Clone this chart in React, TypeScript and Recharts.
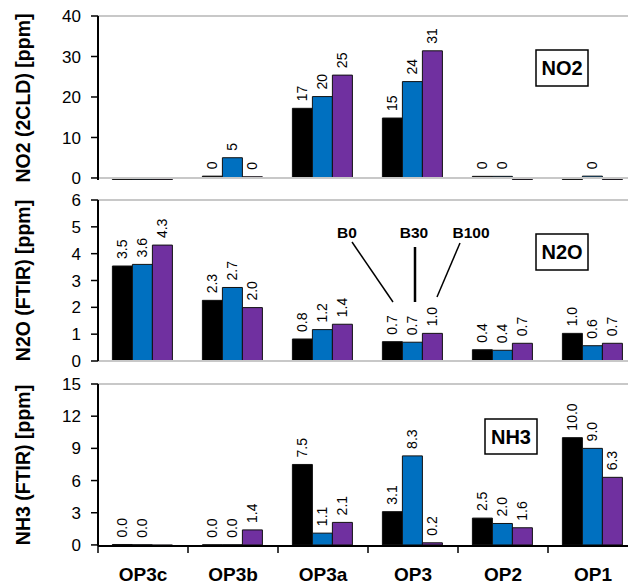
import React from 'react';
import { BarChart, Bar, XAxis, YAxis, ReferenceLine, LabelList } from 'recharts';

const categories = ['OP3c', 'OP3b', 'OP3a', 'OP3', 'OP2', 'OP1'];
const seriesNames = ['B0', 'B30', 'B100'];
const seriesColors = ['#000000', '#0070C0', '#7030A0'];

const no2B0 = [-0.4, 0.45, 17.2, 14.8, 0.4, -0.4];
const no2B30 = [-0.4, 5.0, 20.1, 23.8, 0.4, 0.45];
const no2B100 = [-0.4, 0.3, 25.4, 31.4, -0.4, -0.4];

const n2oB0 = [3.54, 2.26, 0.82, 0.72, 0.42, 1.03];
const n2oB30 = [3.6, 2.74, 1.17, 0.7, 0.4, 0.57];
const n2oB100 = [4.32, 1.99, 1.37, 1.03, 0.66, 0.66];

const nh3B0 = [0.04, 0.01, 7.5, 3.1, 2.5, 10.0];
const nh3B30 = [0.01, 0.01, 1.1, 8.3, 2.0, 9.0];
const nh3B100 = [-0.06, 1.4, 2.1, 0.2, 1.6, 6.3];

const no2Ticks = [0, 10, 20, 30, 40];
const n2oTicks = [0, 1, 2, 3, 4, 5, 6];
const nh3Ticks = [0, 3, 6, 9, 12, 15];

const FONT = '"Liberation Sans", Arial, Helvetica, sans-serif';

function buildRows(a: number[], b: number[], c: number[]) {
  return categories.map((cat, i) => ({ cat, B0: a[i], B30: b[i], B100: c[i] }));
}

const no2Rows = buildRows(no2B0, no2B30, no2B100);
const n2oRows = buildRows(n2oB0, n2oB30, n2oB100);
const nh3Rows = buildRows(nh3B0, nh3B30, nh3B100);

const makeValueLabel = (decimals: number) => (props: any) => {
  const { x, y, width, value } = props;
  if (value == null || value < 0) return null;
  const cx = Number(x) + Number(width) / 2;
  const ty = Number(y) - 7;
  return (
    <text
      x={cx}
      y={ty}
      transform={`rotate(-90 ${cx} ${ty})`}
      textAnchor="start"
      dominantBaseline="central"
      fontSize={14}
      fontFamily={FONT}
      fill="#000"
    >
      {Number(value).toFixed(decimals)}
    </text>
  );
};

const AxisTitle = (props: any) => {
  const { viewBox, text } = props;
  const cx = viewBox.x - 15;
  const cy = viewBox.y + viewBox.height / 2;
  return (
    <text
      x={cx}
      y={cy}
      transform={`rotate(-90 ${cx} ${cy})`}
      textAnchor="middle"
      dominantBaseline="central"
      fontSize={19.5}
      fontWeight="bold"
      fontFamily={FONT}
      fill="#000"
    >
      {text}
    </text>
  );
};

const CategoryTick = (props: any) => {
  const { x, y, payload } = props;
  const off = payload && payload.offset != null ? payload.offset : 0;
  const bx = x - off;
  return (
    <g>
      <line x1={bx} x2={bx} y1={y} y2={y + 7} stroke="#000" strokeWidth={1.5} />
      <text x={x} y={y + 35} textAnchor="middle" fontSize={19} fontWeight="bold" fontFamily={FONT} fill="#000">
        {payload.value}
      </text>
    </g>
  );
};

type PanelProps = {
  top: number;
  height: number;
  marginTop: number;
  marginBottom: number;
  rows: any[];
  ticks: number[];
  domain: [number, number];
  title: string;
  decimals: number;
  bottom?: boolean;
};

function Panel({ top, height, marginTop, marginBottom, rows, ticks, domain, title, decimals, bottom }: PanelProps) {
  const lbl = makeValueLabel(decimals);
  return (
    <div style={{ position: 'absolute', left: 0, top, width: 640, height }}>
      <BarChart
        width={640}
        height={height}
        data={rows}
        margin={{ top: marginTop, right: 2, bottom: marginBottom, left: 38 }}
        barCategoryGap="16%"
        barGap={0}
      >
        <XAxis
          dataKey="cat"
          hide={!bottom}
          height={38}
          axisLine={{ stroke: '#000', strokeWidth: 2 }}
          tickLine={false}
          tickSize={0}
          tickMargin={0}
          interval={0}
          tick={<CategoryTick />}
        />
        <YAxis
          width={60}
          domain={domain}
          ticks={ticks}
          interval={0}
          allowDataOverflow
          axisLine={{ stroke: '#000', strokeWidth: 2 }}
          tickLine={{ stroke: '#000', strokeWidth: 1.5 }}
          tickSize={7}
          tickMargin={10}
          tick={{ fontSize: 17, fill: '#000', fontFamily: FONT }}
          label={<AxisTitle text={title} />}
        />
        <ReferenceLine y={ticks[ticks.length - 1]} stroke="#c8c8c8" strokeWidth={2} />
        {!bottom && <ReferenceLine y={0} stroke="#c8c8c8" strokeWidth={2} />}
        {seriesNames.map((s, i) => (
          <Bar key={s} dataKey={s} fill={seriesColors[i]} stroke="#111" strokeWidth={1} isAnimationActive={false}>
            <LabelList dataKey={s} content={lbl} />
          </Bar>
        ))}
      </BarChart>
    </div>
  );
}

const BoxLabel = ({ x, y, w, h, text }: { x: number; y: number; w: number; h: number; text: string }) => (
  <g>
    <rect x={x} y={y} width={w} height={h} fill="#fff" stroke="#000" strokeWidth={1.5} />
    <text
      x={x + w / 2}
      y={y + h / 2}
      textAnchor="middle"
      dominantBaseline="central"
      fontSize={20}
      fontWeight="bold"
      fontFamily={FONT}
      fill="#000"
    >
      {text}
    </text>
  </g>
);

export default function App() {
  return (
    <div style={{ position: 'absolute', left: 0, top: 0, width: 628, height: 584, overflow: 'hidden', background: '#fff' }}>
      <Panel top={0} height={190} marginTop={16} marginBottom={10} rows={no2Rows} ticks={no2Ticks} domain={[-0.5, 40]} title="NO2 (2CLD) [ppm]" decimals={0} />
      <Panel top={190} height={185} marginTop={10} marginBottom={14} rows={n2oRows} ticks={n2oTicks} domain={[0, 6]} title="N2O (FTIR) [ppm]" decimals={1} />
      <Panel top={374} height={210} marginTop={10} marginBottom={0} rows={nh3Rows} ticks={nh3Ticks} domain={[-0.1, 15]} title="NH3 (FTIR) [ppm]" decimals={1} bottom />
      <svg width={628} height={584} style={{ position: 'absolute', left: 0, top: 0, pointerEvents: 'none' }}>
        <BoxLabel x={536} y={50} w={52} h={36} text="NO2" />
        <BoxLabel x={536} y={234} w={52} h={36} text="N2O" />
        <BoxLabel x={485} y={419} w={52} h={35} text="NH3" />
        <g fontFamily={FONT} fontWeight="bold" fontSize={15.5} fill="#000" textAnchor="middle">
          <text x={347} y={232} dominantBaseline="central">{seriesNames[0]}</text>
          <text x={414} y={232} dominantBaseline="central">{seriesNames[1]}</text>
          <text x={471} y={232} dominantBaseline="central">{seriesNames[2]}</text>
        </g>
        <line x1={352} y1={242} x2={393} y2={302} stroke="#000" strokeWidth={1.5} />
        <line x1={415} y1={247} x2={415} y2={302} stroke="#000" strokeWidth={2.5} />
        <line x1={460} y1={243} x2={437} y2={297} stroke="#000" strokeWidth={1.5} />
      </svg>
    </div>
  );
}
